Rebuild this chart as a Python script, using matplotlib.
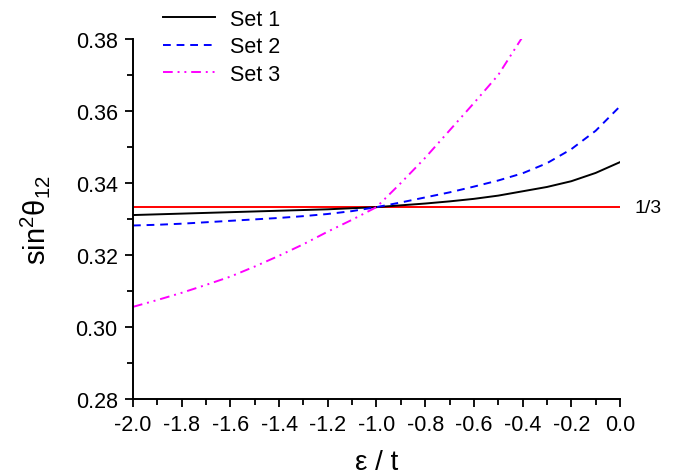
import numpy as np
import matplotlib
matplotlib.use('Agg')
from matplotlib import pyplot as plt
from matplotlib.ticker import MultipleLocator

plt.rcParams['font.family'] = ['Liberation Sans', 'DejaVu Sans']
plt.rcParams['mathtext.fontset'] = 'custom'
plt.rcParams['mathtext.rm'] = 'Liberation Sans'
plt.rcParams['mathtext.it'] = 'Liberation Sans'

# data
eps = [-2.0, -1.9, -1.8, -1.7, -1.6, -1.5, -1.4, -1.3, -1.2, -1.1, -1.0,
       -0.9, -0.8, -0.7, -0.6, -0.5, -0.4, -0.3, -0.2, -0.1, 0.0]
set1 = [0.3311, 0.3313, 0.3315, 0.3317, 0.3319, 0.3321, 0.3323, 0.3325, 0.3327, 0.3330, 0.3333,
        0.3338, 0.3343, 0.3349, 0.3356, 0.3365, 0.3377, 0.3389, 0.3405, 0.3428, 0.3458]
set2 = [0.3282, 0.3284, 0.3287, 0.3291, 0.3295, 0.3299, 0.3303, 0.3308, 0.3314, 0.3322, 0.3333,
        0.3346, 0.3360, 0.3374, 0.3390, 0.3407, 0.3427, 0.3455, 0.3494, 0.3545, 0.3613]
eps3 = eps[:17]
set3 = [0.3056, 0.3075, 0.3095, 0.3117, 0.3140, 0.3168, 0.3198, 0.3230, 0.3265, 0.3298, 0.3333,
        0.3400, 0.3470, 0.3546, 0.3622, 0.3700, 0.3806]
third = 1 / 3

fig = plt.figure(figsize=(6.84, 4.77), dpi=100)
ax = fig.add_axes([0.1944, 0.1614, 0.712, 0.7547])

ax.plot([-2.0, 0.0], [third, third], color='red', lw=1.4)
l1, = ax.plot(eps, set1, color='black', lw=1.4, label='Set 1')
l2, = ax.plot(eps, set2, color='blue', lw=1.4, ls=(0, (4, 3)), label='Set 2')
l3, = ax.plot(eps3, set3, color='magenta', lw=1.4, ls=(0, (5, 2.5, 1, 2.5, 1, 2.5)), label='Set 3')

ax.text(0.06, third, '1/3', fontsize=14, va='center', ha='left', clip_on=False)

ax.set_xlim(-2.0, 0.0)
ax.set_ylim(0.28, 0.38)
ax.xaxis.set_major_locator(MultipleLocator(0.2))
ax.xaxis.set_minor_locator(MultipleLocator(0.1))
ax.yaxis.set_major_locator(MultipleLocator(0.02))
ax.yaxis.set_minor_locator(MultipleLocator(0.01))
ax.xaxis.set_major_formatter(plt.FormatStrFormatter('%.1f'))
ax.yaxis.set_major_formatter(plt.FormatStrFormatter('%.2f'))
ax.tick_params(which='both', direction='out', width=1.3, labelsize=15.5, pad=5)
ax.tick_params(which='major', length=6)
ax.tick_params(which='minor', length=4)
for s in ['top', 'right']:
    ax.spines[s].set_visible(False)
for s in ['left', 'bottom']:
    ax.spines[s].set_linewidth(1.4)

ax.set_xlabel('ε / t', fontsize=20, labelpad=10)
ax.set_ylabel(r'sin$^2$θ$_{12}$', fontsize=21, labelpad=17)

ax.legend(handles=[l1, l2, l3], loc='upper left', bbox_to_anchor=(0.044, 1.108),
          frameon=False, fontsize=15.5, handlelength=2.4, labelspacing=0.3,
          handletextpad=0.7, borderaxespad=0)

fig.savefig('out.png', dpi=100)
